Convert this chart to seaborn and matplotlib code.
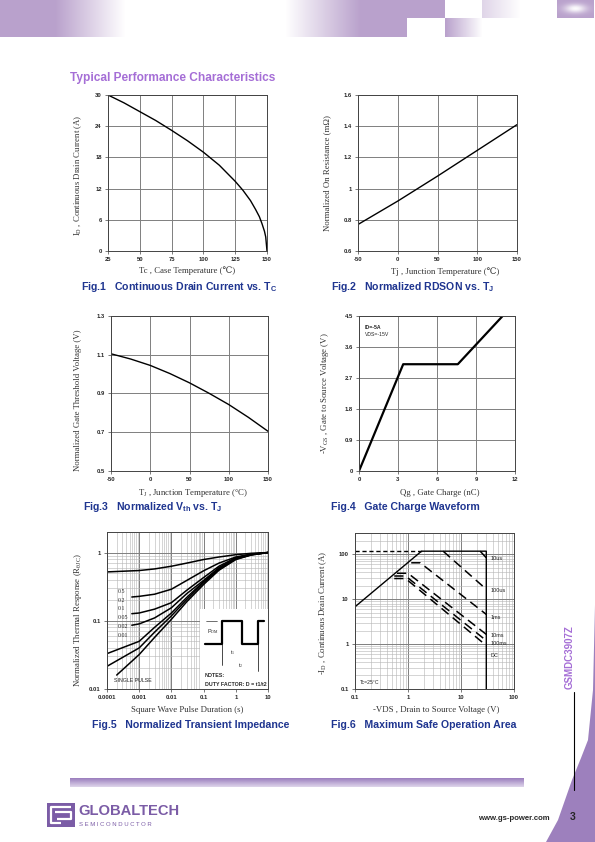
import numpy as np
import matplotlib
matplotlib.use('Agg')
import matplotlib.pyplot as plt
import matplotlib.ticker as mt
from matplotlib.patches import Rectangle, Polygon
import seaborn as sns

#%% data
# Fig.1 continuous drain current vs case temperature
tc_case = [25, 37.5, 50, 62.5, 75, 87.5, 100, 112.5, 125, 131, 137, 141, 144, 146, 148, 149, 150]
id_cont = [30, 28.5, 26.8, 25.1, 23.2, 21.2, 19.0, 16.5, 13.4, 11.7, 9.7, 8.0, 6.6, 5.3, 3.8, 2.7, 0]

# Fig.2 normalized RDSON
tj_rds = [-50, 0, 50, 100, 150]
rds_norm = [0.77, 0.92, 1.08, 1.245, 1.41]

# Fig.3 normalized Vth
tj_vth = [-50, -25, 0, 25, 50, 75, 100, 125, 150]
vth_norm = [1.105, 1.078, 1.045, 1.003, 0.955, 0.901, 0.843, 0.777, 0.705]

# Fig.4 gate charge
qg = [0, 3.4, 7.6, 11.05]
vgs = [0, 3.1, 3.1, 4.5]

# Fig.5 transient thermal impedance (D = 0.5 ... single pulse)
t_d05 = [1e-4, 1e-3, 3e-3, 1e-2, 3e-2, 1e-1, 0.3, 1, 3, 10]
z_d05 = [0.52, 0.545, 0.575, 0.63, 0.70, 0.79, 0.86, 0.93, 0.975, 1.0]
t_d02 = [5.9e-4, 1e-3, 3e-3, 1e-2, 3e-2, 1e-1, 0.3, 1, 3, 10]
z_d02 = [0.223, 0.228, 0.245, 0.29, 0.39, 0.54, 0.70, 0.86, 0.95, 1.0]
t_d01 = [5.9e-4, 1e-3, 3e-3, 1e-2, 3e-2, 1e-1, 0.3, 1, 3, 10]
z_d01 = [0.127, 0.13, 0.148, 0.184, 0.28, 0.43, 0.63, 0.84, 0.94, 1.0]
t_d005 = [5.9e-4, 1e-3, 3e-3, 1e-2, 3e-2, 1e-1, 0.3, 1, 3, 10]
z_d005 = [0.086, 0.09, 0.11, 0.155, 0.25, 0.39, 0.60, 0.83, 0.935, 1.0]
t_d002 = [1e-4, 1e-3, 3e-3, 1e-2, 3e-2, 1e-1, 0.3, 1, 3, 10]
z_d002 = [0.033, 0.05, 0.08, 0.13, 0.22, 0.375, 0.58, 0.81, 0.93, 1.0]
t_d001 = [1e-4, 1e-3, 3e-3, 1e-2, 3e-2, 1e-1, 0.3, 1, 3, 10]
z_d001 = [0.0215, 0.04, 0.068, 0.118, 0.205, 0.36, 0.565, 0.80, 0.925, 1.0]
t_single = [2e-4, 1e-3, 3e-3, 1e-2, 3e-2, 1e-1, 0.3, 1, 3, 10]
z_single = [0.016, 0.032, 0.057, 0.105, 0.19, 0.34, 0.55, 0.79, 0.92, 1.0]
duty_labels = ['0.5', '0.2', '0.1', '0.05', '0.02', '0.01']
duty_label_y = [0.273, 0.199, 0.150, 0.110, 0.082, 0.061]

# Fig.6 safe operating area
soa_env_v = [0.1, 1.8, 30, 30]
soa_env_i = [6.8, 118, 118, 0.1]
soa_lim_v = [0.1, 1.8]
soa_lim_i = [118, 118]
soa_names = ['10us', '100us', '1ms', '10ms', '100ms', 'DC']
soa_v = [[23, 30], [4.6, 30], [1.15, 1.7, 30], [0.62, 1.0, 30], [0.55, 0.9, 30], [0.55, 0.9, 30]]
soa_i = [[118, 84], [118, 16.7], [65, 65, 4.6], [38, 38, 1.65], [33, 33, 1.2], [29, 29, 0.93]]
soa_label_i = [81, 15.8, 3.9, 1.53, 1.03, 0.57]

#%% style
sns.set_style('ticks')
plt.rcParams['font.family'] = ['Liberation Sans', 'DejaVu Sans']
plt.rcParams['axes.unicode_minus'] = False
plt.rcParams['mathtext.fontset'] = 'custom'
plt.rcParams['mathtext.rm'] = 'Liberation Serif'
plt.rcParams['mathtext.it'] = 'Liberation Serif:italic'
plt.rcParams['mathtext.bf'] = 'Liberation Sans:bold'

PURPLE = '#b9a1cc'
NAVY = '#1f3590'
SERIF = ['Liberation Serif', 'DejaVu Serif']

W, H = 595, 842
fig = plt.figure(figsize=(W / 100, H / 100), dpi=100, facecolor='white')
bg = fig.add_axes([0, 0, 1, 1], zorder=0)
bg.set_xlim(0, W)
bg.set_ylim(H, 0)
bg.axis('off')


def ramp(x, a, b):
    return np.clip((x - a) / (b - a), 0, 1)


#%% header banner
xs = np.arange(W, dtype=float)
top = np.clip(1 - ramp(xs, 55, 125) + ramp(xs, 285, 360), 0, 1)
top[xs >= 445] = 0
m = (xs >= 482) & (xs < 520)
top[m] = 0.45 * (1 - ramp(xs[m], 482, 520))
top[(xs >= 557) & (xs < 594)] = 1
bot = np.clip(1 - ramp(xs, 55, 125) + ramp(xs, 285, 360), 0, 1)
bot[xs >= 407] = 0
m = (xs >= 445) & (xs < 482)
bot[m] = 1 - ramp(xs[m], 445, 482)
alpha = np.vstack([np.tile(top, (18, 1)), np.tile(bot, (19, 1))])
yy, xx = np.mgrid[0:37, 0:W]
glow = np.exp(-((xx - 575) / 11.0) ** 2 - ((yy - 8) / 4.5) ** 2)
alpha[:18] = alpha[:18] * (1 - 0.95 * glow[:18])
rgba = np.zeros((37, W, 4))
rgba[..., :3] = matplotlib.colors.to_rgb(PURPLE)
rgba[..., 3] = alpha
bg.imshow(rgba, extent=[0, W, 37, 0], interpolation='bilinear', aspect='auto')

bg.text(70, 78, 'Typical Performance Characteristics', color='#a56ed6',
        fontsize=8.6, fontweight='bold', va='center', ha='left')

#%% footer
grad = np.zeros((10, 2, 4))
grad[..., :3] = matplotlib.colors.to_rgb('#9c80bf')
grad[..., 3] = np.linspace(1, 0.35, 10)[:, None]
bg.imshow(grad, extent=[70, 524, 787, 778], interpolation='bilinear', aspect='auto')

bg.add_patch(Polygon([(595, 605), (593, 690), (588, 740), (581, 758), (572, 780),
                      (565, 800), (558, 820), (546, 842), (595, 842)],
                     closed=True, fc='#9d80bd', ec='none'))
gy, gx = np.mgrid[790:842, 540:595]
wg = np.zeros(gx.shape + (4,))
wg[..., :3] = 1
wg[..., 3] = np.clip(1.25 * np.exp(-((gx - 574) / 17.0) ** 2 - ((gy - 817) / 19.0) ** 2), 0, 1)
bg.imshow(wg, extent=[540, 595, 842, 790], interpolation='bilinear', aspect='auto')
bg.text(573, 817, '3', fontsize=7.5, fontweight='bold', ha='center', va='center')
bg.text(550, 819, 'www.gs-power.com', fontsize=5.6, fontweight='bold', ha='right', va='center')
bg.plot([574, 574], [692, 790], color='k', lw=0.8)
bg.text(570, 657, 'GSMDC3907Z', rotation=90, fontsize=7, fontweight='bold',
        color='#a56ed6', ha='center', va='center')

# logo
bg.add_patch(Rectangle((47, 803), 28, 24, fc='#7b5ca6', ec='none'))
bg.plot([71, 51, 51, 61], [807, 807, 823, 823], color='white', lw=1.6, solid_capstyle='butt')
bg.plot([55, 71, 71, 57], [812, 812, 819, 819], color='white', lw=1.6, solid_capstyle='butt')
bg.text(78, 811, 'GLOBALTECH', fontsize=10.6, fontweight='bold', color='#7b5ca6',
        ha='left', va='center')
bg.text(79, 824, 'S E M I C O N D U C T O R', fontsize=4.3, color='#7b5ca6',
        ha='left', va='center')


#%% helpers
def new_ax(l, t, r, b):
    return fig.add_axes([l / W, 1 - b / H, (r - l) / W, (b - t) / H], zorder=2)


def finish(ax, minor=False):
    ax.grid(True, which='major', color='#7f7f7f', lw=0.7)
    if minor:
        ax.grid(True, which='minor', color='#b5b5b5', lw=0.4)
    for s in ax.spines.values():
        s.set_visible(True)
        s.set_color('#444444')
        s.set_linewidth(0.7)
    ax.tick_params(which='major', labelsize=4.2, length=2, width=0.5, pad=2.5, color='#444444')
    ax.tick_params(which='minor', length=0)
    for lab in ax.get_xticklabels() + ax.get_yticklabels():
        lab.set_fontweight('bold')
    ax.set_xlabel('')
    ax.set_ylabel('')


def labels(xl, xpos, yl, ypos, cap, cpos):
    bg.text(xpos[0], xpos[1], xl, fontsize=6.3, family=SERIF, color='#333333',
            ha='center', va='center')
    bg.text(ypos[0], ypos[1], yl, fontsize=6.3, family=SERIF, color='#333333',
            ha='center', va='center', rotation=90)
    bg.text(cpos[0], cpos[1], cap, fontsize=7.6, fontweight='bold', color=NAVY,
            ha='left', va='center')


gfmt = mt.FuncFormatter(lambda v, p: '%g' % v)

#%% Fig.1
ax1 = new_ax(108, 95, 267, 251)
sns.lineplot(x=tc_case, y=id_cont, ax=ax1, color='k', lw=1.0, sort=False, estimator=None)
ax1.set_xlim(25, 150)
ax1.set_ylim(0, 30)
ax1.set_xticks(np.arange(25, 151, 25))
ax1.set_yticks(np.arange(0, 31, 6))
finish(ax1)
labels('Tc , Case Temperature (\u2103)', (187, 271),
       'I$_{\\rm D}$ , Continuous Drain Current (A)', (78, 175),
       'Fig.1   Continuous Drain Current vs. T$_{\\mathbf{C}}$', (81, 287))

#%% Fig.2
ax2 = new_ax(358, 95, 517, 251)
sns.lineplot(x=tj_rds, y=rds_norm, ax=ax2, color='k', lw=1.0, sort=False, estimator=None)
ax2.set_xlim(-50, 150)
ax2.set_ylim(0.6, 1.6)
ax2.set_xticks([-50, 0, 50, 100, 150])
ax2.set_yticks([0.6, 0.8, 1.0, 1.2, 1.4, 1.6])
ax2.yaxis.set_major_formatter(gfmt)
finish(ax2)
labels('Tj , Junction Temperature (\u2103)', (445, 272),
       'Normalized On Resistance (m\u03a9)', (327, 173),
       'Fig.2   Normalized RDSON vs. T$_{\\mathbf{J}}$', (331, 287))

#%% Fig.3
ax3 = new_ax(111, 316, 268, 471)
sns.lineplot(x=tj_vth, y=vth_norm, ax=ax3, color='k', lw=1.0, sort=False, estimator=None)
ax3.set_xlim(-50, 150)
ax3.set_ylim(0.5, 1.3)
ax3.set_xticks([-50, 0, 50, 100, 150])
ax3.set_yticks([0.5, 0.7, 0.9, 1.1, 1.3])
ax3.yaxis.set_major_formatter(gfmt)
finish(ax3)
labels('T$_{\\rm J}$ , Junction Temperature (\u00b0C)', (193, 493),
       'Normalized Gate Threshold Voltage (V)', (78, 400),
       'Fig.3   Normalized V$_{\\mathbf{th}}$ vs. T$_{\\mathbf{J}}$', (83, 507))

#%% Fig.4
ax4 = new_ax(359, 316, 515, 471)
sns.lineplot(x=qg, y=vgs, ax=ax4, color='k', lw=1.6, sort=False, estimator=None)
ax4.set_xlim(0, 12)
ax4.set_ylim(0, 4.5)
ax4.set_xticks([0, 3, 6, 9, 12])
ax4.set_yticks([0, 0.9, 1.8, 2.7, 3.6, 4.5])
ax4.yaxis.set_major_formatter(gfmt)
finish(ax4)
ax4.text(0.44, 4.18, 'ID=-5A', fontsize=3.7, fontweight='bold', va='center')
ax4.text(0.44, 3.95, 'VDS=-15V', fontsize=3.7, va='center')
labels('Qg , Gate Charge (nC)', (440, 493),
       '-V$_{\\rm GS}$ , Gate to Source Voltage (V)', (325, 393),
       'Fig.4   Gate Charge Waveform', (331, 507))

#%% Fig.5
ax5 = new_ax(107, 532, 268, 689)
zcurves = [(t_d05, z_d05), (t_d02, z_d02), (t_d01, z_d01), (t_d005, z_d005),
           (t_d002, z_d002), (t_d001, z_d001), (t_single, z_single)]
for tt, zz in zcurves:
    sns.lineplot(x=tt, y=zz, ax=ax5, color='k', lw=1.1, sort=False, estimator=None)
ax5.set_xscale('log')
ax5.set_yscale('log')
ax5.set_xlim(1e-4, 10)
ax5.set_ylim(0.01, 2)
for axis in (ax5.xaxis, ax5.yaxis):
    axis.set_major_locator(mt.LogLocator(base=10, numticks=10))
    axis.set_minor_locator(mt.LogLocator(base=10, subs=np.arange(2, 10), numticks=20))
    axis.set_major_formatter(gfmt)
    axis.set_minor_formatter(mt.NullFormatter())
finish(ax5, minor=True)
for lab, yv in zip(duty_labels, duty_label_y):
    ax5.text(2.1e-4, yv, lab, fontsize=4.2, va='center', family=SERIF)
ax5.text(1.6e-4, 0.0133, 'SINGLE PULSE', fontsize=3.8, va='center')

ins = ax5.inset_axes([0.578, 0.0, 0.422, 0.507])
ins.set_facecolor('white')
ins.set_xlim(0, 1)
ins.set_ylim(0, 1)
ins.set_xticks([])
ins.set_yticks([])
for s in ins.spines.values():
    s.set_visible(False)
ins.plot([0.07, 0.33, 0.33, 0.61, 0.61, 0.85, 0.85, 0.94],
         [0.57, 0.57, 0.85, 0.85, 0.57, 0.57, 0.85, 0.85], color='k', lw=1.6)
ins.annotate('', xy=(0.17, 0.85), xytext=(0.17, 0.98),
             arrowprops=dict(arrowstyle='->', lw=0.6))
ins.annotate('', xy=(0.17, 0.57), xytext=(0.17, 0.46),
             arrowprops=dict(arrowstyle='->', lw=0.6))
ins.plot([0.09, 0.25], [0.85, 0.85], color='k', lw=0.4)
ins.text(0.1, 0.72, 'P$_{\\rm DM}$', fontsize=4, va='center')
ins.plot([0.33, 0.33], [0.57, 0.30], color='k', lw=0.5)
ins.plot([0.85, 0.85], [0.57, 0.22], color='k', lw=0.5)
ins.annotate('', xy=(0.33, 0.41), xytext=(0.07, 0.41),
             arrowprops=dict(arrowstyle='->', lw=0.6))
ins.annotate('', xy=(0.61, 0.41), xytext=(0.80, 0.41),
             arrowprops=dict(arrowstyle='->', lw=0.6))
ins.annotate('', xy=(0.85, 0.26), xytext=(0.99, 0.26),
             arrowprops=dict(arrowstyle='->', lw=0.6))
ins.text(0.44, 0.44, 't$_1$', fontsize=4)
ins.text(0.56, 0.27, 't$_2$', fontsize=4)
ins.text(0.07, 0.17, 'NOTES:', fontsize=3.8, fontweight='bold', va='center')
ins.text(0.07, 0.06, 'DUTY FACTOR: D = t1/t2', fontsize=3.8, fontweight='bold', va='center')
labels('Square Wave Pulse Duration (s)', (187, 710),
       'Normalized Thermal Response (R$_{\\rm \u03b8JC}$)', (78, 620),
       'Fig.5   Normalized Transient Impedance', (92, 725))

#%% Fig.6
ax6 = new_ax(355, 533, 514, 689)
sns.lineplot(x=soa_env_v, y=soa_env_i, ax=ax6, color='k', lw=1.0, sort=False, estimator=None)
sns.lineplot(x=soa_lim_v, y=soa_lim_i, ax=ax6, color='k', lw=1.0, sort=False, estimator=None,
             linestyle=(0, (3, 2)))
for vv, ii in zip(soa_v, soa_i):
    sns.lineplot(x=vv, y=ii, ax=ax6, color='k', lw=1.1, sort=False, estimator=None,
                 linestyle=(0, (6, 3.5)))
ax6.set_xscale('log')
ax6.set_yscale('log')
ax6.set_xlim(0.1, 100)
ax6.set_ylim(0.1, 300)
for axis in (ax6.xaxis, ax6.yaxis):
    axis.set_major_locator(mt.LogLocator(base=10, numticks=10))
    axis.set_minor_locator(mt.LogLocator(base=10, subs=np.arange(2, 10), numticks=20))
    axis.set_major_formatter(gfmt)
    axis.set_minor_formatter(mt.NullFormatter())
finish(ax6, minor=True)
for nm, yv in zip(soa_names, soa_label_i):
    ax6.text(36, yv, nm, fontsize=4, va='center')
ax6.text(0.125, 0.143, 'Tc=25\u00b0C', fontsize=3.7, va='center')
labels('-VDS , Drain to Source Voltage (V)', (436, 710),
       '-I$_{\\rm D}$ , Continuous Drain Current (A)', (323, 613),
       'Fig.6   Maximum Safe Operation Area', (331, 725))

fig.savefig('out.png', dpi=100, facecolor='white')
